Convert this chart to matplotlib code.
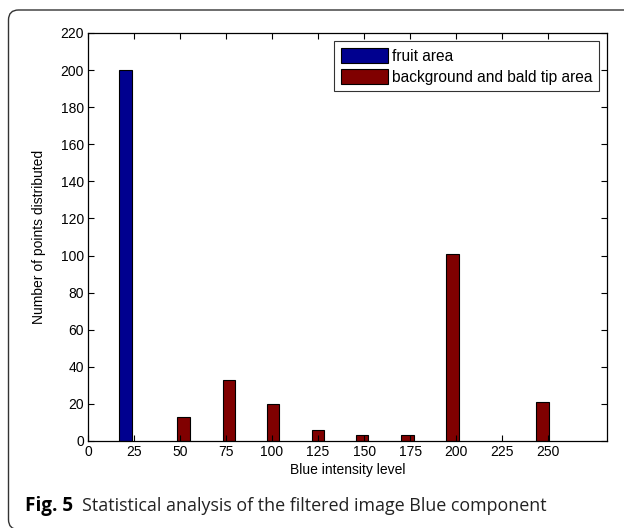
import matplotlib.pyplot as plt
from matplotlib.patches import Patch, FancyBboxPatch

# Data
fruit_x = [20.5]
fruit_counts = [200]
bg_x = [52, 76.5, 100.5, 125, 149, 173.5, 198, 247]
bg_counts = [13, 33, 20, 6, 3, 3, 101, 21]
x_ticks = [0, 25, 50, 75, 100, 125, 150, 175, 200, 225, 250]
y_ticks = list(range(0, 221, 20))

blue = "#00008f"
red = "#800000"
tick_font = "Liberation Sans"

fig = plt.figure(figsize=(6.24, 5.28), dpi=100)

# rounded card frame around figure and caption (inches)
frame = FancyBboxPatch((0.085, -0.015), 10, 5.195,
                       boxstyle="round,pad=0,rounding_size=0.1",
                       transform=fig.dpi_scale_trans, facecolor="none",
                       edgecolor="#333333", linewidth=1.0, clip_on=False)
fig.patches.append(frame)

ax = fig.add_axes([88 / 624, 87 / 528, 519 / 624, 408 / 528])
ax.bar(fruit_x, fruit_counts, width=6.8, color=blue, edgecolor="black", linewidth=0.8)
ax.bar(bg_x, bg_counts, width=6.8, color=red, edgecolor="black", linewidth=0.8)

ax.set_xlim(0, 282)
ax.set_ylim(0, 220)
ax.set_xticks(x_ticks)
ax.set_yticks(y_ticks)
ax.tick_params(direction="in", length=4, width=0.8, top=True, right=True,
               labelsize=10, pad=3)
for lab in ax.get_xticklabels() + ax.get_yticklabels():
    lab.set_family(tick_font)
for s in ax.spines.values():
    s.set_linewidth(0.9)

ax.set_xlabel("Blue intensity level", family=tick_font, fontsize=10, labelpad=3)
ax.set_ylabel("Number of points distributed", family=tick_font, fontsize=10, labelpad=10)

handles = [Patch(facecolor=blue, edgecolor="black", linewidth=0.8, label="fruit area"),
           Patch(facecolor=red, edgecolor="black", linewidth=0.8,
                 label="background and bald tip area")]
leg = ax.legend(handles=handles, loc="upper right", bbox_to_anchor=(0.985, 0.98),
                borderaxespad=0, fancybox=False, edgecolor="black",
                prop={"family": tick_font, "size": 11.2}, handlelength=3.05,
                handleheight=1.15, handletextpad=0.25, labelspacing=0.32,
                borderpad=0.42)
leg.get_frame().set_linewidth(0.8)

# caption
fig.text(25 / 624, 1 - 511 / 528, "Fig. 5", family="Open Sans", weight="bold",
         fontsize=13.6, va="baseline", ha="left")
fig.text(82 / 624, 1 - 511 / 528, "Statistical analysis of the filtered image Blue component",
         family="Open Sans", fontsize=12.85, va="baseline", ha="left", color="#222222")

fig.savefig("out.png", dpi=100)
